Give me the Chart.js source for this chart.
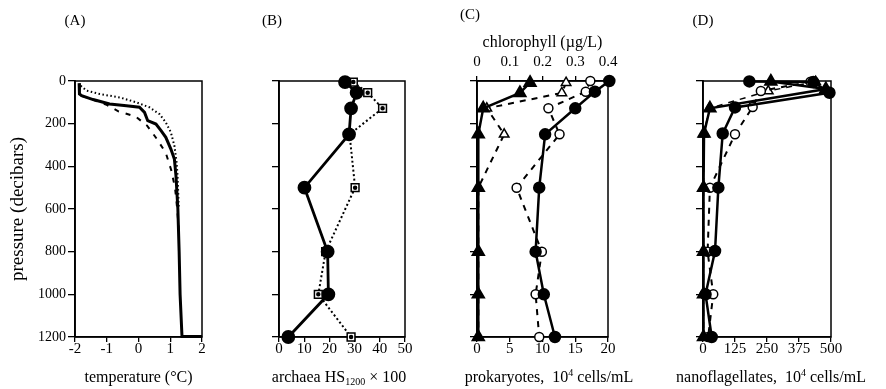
<!DOCTYPE html>
<html>
<head>
<meta charset="utf-8">
<script src="https://cdn.jsdelivr.net/npm/chart.js@4.4.1/dist/chart.umd.min.js"></script>
<style>
html, body { margin: 0; padding: 0; background: #fff; }
#wrap { position: relative; width: 886px; height: 389px; overflow: hidden; }
#wrap canvas { position: absolute; left: 0; top: 0; }
.txt { position: absolute; font: 15px "Liberation Serif", "Times New Roman", serif; line-height: 16px; color: #000; transform: translateX(-50%); white-space: nowrap; }
.xt { font-size: 16px; }
.xt sub { font-size: 10px; vertical-align: -3px; line-height: 0; }
.xt sup { font-size: 10px; vertical-align: 6px; line-height: 0; }
</style>
</head>
<body>
<div id="wrap">
  <canvas id="chartA" width="886" height="389"></canvas>
  <canvas id="chartB" width="886" height="389"></canvas>
  <canvas id="chartC" width="886" height="389"></canvas>
  <canvas id="chartD" width="886" height="389"></canvas>
  <div class="txt" style="left:75px;top:12px">(A)</div>
  <div class="txt" style="left:272px;top:12px">(B)</div>
  <div class="txt" style="left:470px;top:6px">(C)</div>
  <div class="txt" style="left:703px;top:12px">(D)</div>
  <div class="txt xt" style="left:339px;top:369px">archaea HS<sub>1200</sub> × 100</div>
  <div class="txt xt" style="left:549px;top:369px">prokaryotes,&nbsp; 10<sup>4</sup> cells/mL</div>
  <div class="txt xt" style="left:771px;top:369px">nanoflagellates,&nbsp; 10<sup>4</sup> cells/mL</div>
</div>
<script>
// tick labels
const pressureTicks = [0, 200, 400, 600, 800, 1000, 1200];
const tempTicks = [-2, -1, 0, 1, 2];
const archaeaTicks = [0, 10, 20, 30, 40, 50];
const prokTicks = [0, 5, 10, 15, 20];
const chlTicks = [0, 0.1, 0.2, 0.3, 0.4];
const nanoTicks = [0, 125, 250, 375, 500];

// (A) temperature profiles
const tempSolidT = [-1.87, -1.87, -1.85, -1.79, -1.43, -0.91, -0.38, 0.03, 0.19, 0.29, 0.55, 0.71, 0.86, 1.02, 1.13, 1.18, 1.24, 1.28, 1.31, 1.37, 2.0];
const tempSolidP = [10, 47, 61, 69, 87, 108, 116, 123, 147, 186, 202, 233, 264, 319, 366, 444, 600, 800, 1000, 1198, 1198];
const tempDotT = [-1.82, -1.64, -1.22, -0.59, -0.07, 0.34, 0.66, 0.86, 1.02, 1.13, 1.2, 1.23, 1.25, 1.27];
const tempDotP = [22, 45, 61, 77, 100, 123, 155, 194, 241, 303, 381, 444, 520, 600];
const tempDashT = [-1.87, -1.85, -1.79, -1.43, -1.0, -0.62, -0.09, 0.27, 0.58, 0.86, 1.03, 1.15, 1.22, 1.27];
const tempDashP = [15, 60, 70, 88, 112, 143, 167, 209, 272, 337, 417, 500, 600, 700];

// (B) archaea
const archaeaDepth = [5, 55, 128, 250, 500, 800, 1000, 1200];
const archaeaSolid = [26.2, 30.8, 28.6, 27.8, 10.1, 19.3, 19.6, 3.7];
const archaeaDotted = [29.5, 35.2, 41.1, 28.0, 30.2, 18.5, 15.6, 28.6];

// (C) prokaryotes (bottom axis) and chlorophyll (top axis)
const prokDepth = [0, 50, 128, 250, 500, 800, 1000, 1200];
const prokSolid = [20.2, 18.0, 15.0, 10.4, 9.5, 8.95, 10.2, 11.9];
const prokOpen = [17.3, 16.6, 10.9, 12.6, 6.05, 9.9, 8.95, 9.5];
const chlDepth = [8, 56, 128, 250, 500, 800, 1000, 1200];
const chlSolid = [0.162, 0.131, 0.019, 0.004, 0.004, 0.004, 0.004, 0.004];
const chlOpen = [0.272, 0.259, 0.03, 0.083, 0.004, 0.004, 0.004, 0.004];

// (D) nanoflagellates
const nanoCircDepth = [2, 5, 55, 124, 246, 500, 797, 1000, 1200];
const nanoCircSolid = [181, 431, 494, 125, 77, 60, 47, 10, 34];
const nanoTriDepth = [2, 38, 128, 246, 500, 800, 1000, 1200];
const nanoTriSolid = [265, 480, 27, 4, 2, 2, 2, 2];
const nanoOpenDepth = [3, 47, 122, 250, 500, 800, 1000, 1200];
const nanoOpenCirc = [420, 226, 194, 125, 27, 18, 40, 20];
const nanoOpenTriDepth = [3, 47, 128, 250, 500, 800, 1000, 1200];
const nanoOpenTri = [440, 255, 25, 3, 2, 2, 2, 2];

const FAMILY = '"Liberation Serif", "Times New Roman", serif';
const TICK_FONT = { family: FAMILY, size: 15 };
const YTICK_FONT = { family: FAMILY, size: 14 };
const TITLE_FONT = { family: FAMILY, size: 16 };
const TOP = 81, BOTTOM = 337, H = 389, W = 886;

const pts = (xs, ys) => xs.map((x, i) => ({ x: x, y: ys[i] }));

function series(xs, ys, style) {
    return Object.assign({
        data: pts(xs, ys),
        showLine: true,
        clip: false,
        borderColor: '#000',
        backgroundColor: '#000',
        pointBorderColor: '#000',
        pointBackgroundColor: '#000',
        borderWidth: 2.5,
        pointRadius: 0,
        pointHoverRadius: 0
    }, style);
}

function depthAxis(width, withLabels) {
    return {
        type: 'linear', position: 'left', reverse: true, min: 0, max: 1200,
        afterBuildTicks: s => { s.ticks = pressureTicks.map(v => ({ value: v })); },
        ticks: { display: withLabels, color: '#000', font: YTICK_FONT, padding: 2, callback: v => String(v) },
        grid: { drawOnChartArea: false, tickLength: 7, color: '#000', lineWidth: 1.3 },
        border: { color: '#000', width: 1.8 },
        title: {
            display: withLabels, text: 'pressure (decibars)', color: '#000',
            font: { family: FAMILY, size: 19 }, padding: { top: 7, bottom: 0 }
        },
        afterFit: s => { s.width = width; }
    };
}

function valueAxis(ticks, title, position, height) {
    const top = position === 'top';
    return {
        type: 'linear', position: position, min: ticks[0], max: ticks[ticks.length - 1],
        afterBuildTicks: s => { s.ticks = ticks.map(v => ({ value: v })); },
        ticks: {
            color: '#000', font: TICK_FONT, padding: top ? 5 : -2,
            maxRotation: 0, autoSkip: false, callback: v => String(v)
        },
        grid: { drawOnChartArea: false, tickLength: 5, color: '#000', lineWidth: 1.3 },
        border: { color: '#000', width: 1.5 },
        title: {
            display: !!title, text: title, color: '#000', font: TITLE_FONT,
            padding: top ? { top: 3, bottom: 0 } : { top: 0, bottom: 2 }
        },
        afterFit: s => { s.height = height; }
    };
}

// box around each plot area
const framePlugin = {
    id: 'frame',
    beforeDatasetsDraw(chart) {
        const { ctx, chartArea: a } = chart;
        ctx.save();
        ctx.strokeStyle = '#000';
        ctx.lineWidth = 1.5;
        ctx.strokeRect(a.left, a.top, a.right - a.left, a.bottom - a.top);
        ctx.restore();
    }
};

function makeChart(id, box, scales, datasets, topHeight) {
    return new Chart(document.getElementById(id), {
        type: 'scatter',
        data: { datasets: datasets },
        options: {
            responsive: false,
            animation: false,
            devicePixelRatio: 1,
            layout: {
                autoPadding: false,
                padding: { left: box.left - box.yWidth, right: W - box.right, top: TOP - (topHeight || 0), bottom: 0 }
            },
            plugins: { legend: { display: false }, tooltip: { enabled: false } },
            scales: scales
        },
        plugins: [framePlugin]
    });
}

// (A)
makeChart('chartA', { left: 75, right: 202, yWidth: 75 }, {
    x: valueAxis(tempTicks, 'temperature (°C)', 'bottom', H - BOTTOM),
    y: depthAxis(75, true)
}, [
    series(tempSolidT, tempSolidP, { borderWidth: 3 }),
    series(tempDashT, tempDashP, { borderWidth: 2, borderDash: [5, 7] }),
    series(tempDotT, tempDotP, { borderWidth: 2, borderDash: [1.5, 2.5] })
]);

// (B)
makeChart('chartB', { left: 279, right: 405, yWidth: 10 }, {
    x: valueAxis(archaeaTicks, '', 'bottom', H - BOTTOM),
    y: depthAxis(10, false)
}, [
    series(archaeaSolid, archaeaDepth, { borderWidth: 2.8, pointStyle: 'circle', pointRadius: 5.5 }),
    series(archaeaDotted, archaeaDepth, { showLine: false, pointStyle: 'circle', pointRadius: 1 }),
    series(archaeaDotted, archaeaDepth, {
        borderWidth: 2, borderDash: [2, 2.5], pointStyle: 'rect', pointRadius: 5.5,
        pointBackgroundColor: '#fff', pointBorderWidth: 1.5
    })
]);

// (C)
makeChart('chartC', { left: 477, right: 608, yWidth: 10 }, {
    x: valueAxis(prokTicks, '', 'bottom', H - BOTTOM),
    x2: valueAxis(chlTicks, 'chlorophyll (µg/L)', 'top', 51),
    y: depthAxis(10, false)
}, [
    series(prokSolid, prokDepth, { borderWidth: 2.5, pointStyle: 'circle', pointRadius: 5 }),
    series(chlSolid, chlDepth, { xAxisID: 'x2', borderWidth: 2.5, pointStyle: 'triangle', pointRadius: 6 }),
    series(prokOpen, prokDepth, {
        borderWidth: 2, borderDash: [6, 6], pointStyle: 'circle', pointRadius: 4.5,
        pointBackgroundColor: '#fff', pointBorderWidth: 1.5
    }),
    series(chlOpen, chlDepth, {
        xAxisID: 'x2', borderWidth: 2, borderDash: [6, 6], pointStyle: 'triangle', pointRadius: 5.5,
        pointBackgroundColor: '#fff', pointBorderWidth: 1.5
    })
], 51);

// (D)
makeChart('chartD', { left: 703, right: 831, yWidth: 10 }, {
    x: valueAxis(nanoTicks, '', 'bottom', H - BOTTOM),
    y: depthAxis(10, false)
}, [
    series(nanoCircSolid, nanoCircDepth, { borderWidth: 2.5, pointStyle: 'circle', pointRadius: 5 }),
    series(nanoTriSolid, nanoTriDepth, { borderWidth: 2.5, pointStyle: 'triangle', pointRadius: 6 }),
    series(nanoOpenCirc, nanoOpenDepth, {
        borderWidth: 2, borderDash: [6, 6], pointStyle: 'circle', pointRadius: 4.5,
        pointBackgroundColor: '#fff', pointBorderWidth: 1.5
    }),
    series(nanoOpenTri, nanoOpenTriDepth, {
        borderWidth: 1.5, borderDash: [6, 6], pointStyle: 'triangle', pointRadius: 5.5,
        pointBackgroundColor: '#fff', pointBorderWidth: 1.5
    })
]);
</script>
</body>
</html>
